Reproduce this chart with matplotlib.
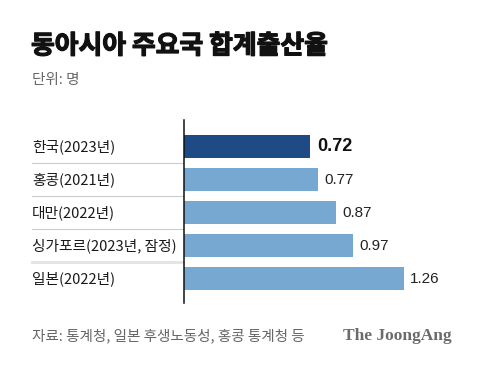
import matplotlib
matplotlib.use("Agg")
import matplotlib.pyplot as plt
import matplotlib.patheffects as pe
from matplotlib.transforms import blended_transform_factory

plt.rcParams["font.family"] = ["Noto Sans CJK KR", "DejaVu Sans"]

# ── Data ──────────────────────────────────────────────────────────────────
countries = ["한국(2023년)", "홍콩(2021년)", "대만(2022년)", "싱가포르(2023년, 잠정)", "일본(2022년)"]
rates     = [0.72, 0.77, 0.87, 0.97, 1.26]
value_labels = ["0.72", "0.77", "0.87", "0.97", "1.26"]

DARK  = "#1e4b85"
LIGHT = "#76a8d1"
W, H = 480, 366


def main():
    fig = plt.figure(figsize=(W / 100, H / 100), dpi=100)
    fig.patch.set_facecolor("white")

    # axes in pixel coords: x 184..460, y 120..303 (from top)
    ax = fig.add_axes([184 / W, 1 - 303 / H, (460 - 184) / W, (303 - 120) / H])
    ax.set_xlim(0, 276 / 174.6)
    ax.set_ylim(4.73, -0.8)

    ypos = list(range(len(countries)))
    colors = [DARK] + [LIGHT] * (len(countries) - 1)
    ax.barh(ypos, rates, height=0.7, color=colors, edgecolor="none")

    for i, (v, lab) in enumerate(zip(rates, value_labels)):
        if i == 0:
            ax.text(v + 0.045, i, lab, va="center", ha="left", fontsize=13,
                    fontweight="bold", color="#111111", family="Liberation Sans")
        else:
            ax.text(v + 0.035, i, lab, va="center", ha="left", fontsize=11,
                    color="#222222", family="Liberation Sans")

    # category labels + row separators (left of axis)
    tr = blended_transform_factory(fig.transFigure, ax.transData)
    for i, name in enumerate(countries):
        ax.text(32 / W, i, name, transform=tr, va="center", ha="left",
                fontsize=10.6, color="#1a1a1a", clip_on=False)
    for i in range(len(countries) - 1):
        lw = 2 if i == len(countries) - 2 else 0.8
        c = "#e2e2e2" if i == len(countries) - 2 else "#cccccc"
        ax.plot([32 / W, 183 / W], [i + 0.5, i + 0.5], transform=tr,
                color=c, lw=lw, clip_on=False)

    for s in ["top", "right", "bottom"]:
        ax.spines[s].set_visible(False)
    ax.spines["left"].set_color("#111111")
    ax.spines["left"].set_linewidth(1.1)
    ax.set_xticks([])
    ax.set_yticks([])
    ax.patch.set_alpha(0)

    # titles and footer
    fig.text(31 / W, 1 - 46 / H, "동아시아 주요국 합계출산율", fontsize=18.6,
             fontweight="black", color="#111111", va="center", ha="left",
             path_effects=[pe.withStroke(linewidth=0.9, foreground="#111111")])
    fig.text(32 / W, 1 - 80 / H, "단위: 명", fontsize=10.5, color="#666666",
             va="center", ha="left")
    fig.text(32 / W, 1 - 336 / H, "자료: 통계청, 일본 후생노동성, 홍콩 통계청 등",
             fontsize=10.5, color="#666666", va="center", ha="left")
    fig.text(452 / W, 1 - 336 / H, "The JoongAng", fontsize=12.5,
             fontweight="bold", color="#6b6b6b", va="center", ha="right",
             family="Liberation Serif")

    fig.savefig("out.png", dpi=100)
    plt.close(fig)


if __name__ == "__main__":
    main()
